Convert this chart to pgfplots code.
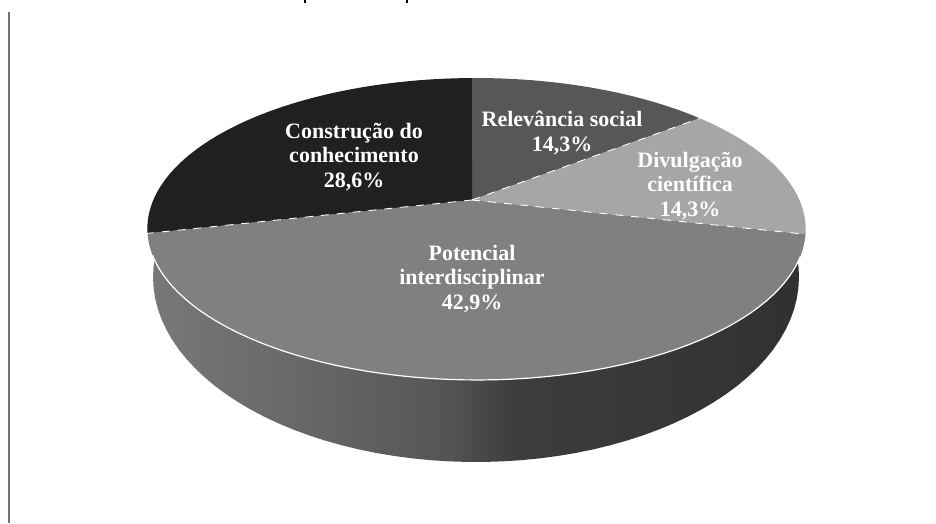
\documentclass[border=0pt]{standalone}
\usepackage{fontspec}
\setmainfont{Liberation Serif}
\usepackage{pgfplots}
\usepackage{pgfplotstable}
\pgfplotsset{compat=1.18}

% Shares of the four categories, clockwise from twelve o'clock
\pgfplotstableread{
share
14.3
14.3
42.9
28.6
}\pietable

\definecolor{wallA}{gray}{0.47}
\definecolor{wallB}{gray}{0.39}
\definecolor{wallC}{gray}{0.34}
\definecolor{wallD}{gray}{0.24}
\definecolor{wallE}{gray}{0.19}
\definecolor{sliceRel}{gray}{0.34}
\definecolor{sliceDiv}{gray}{0.65}
\definecolor{slicePot}{gray}{0.50}
\definecolor{sliceCon}{gray}{0.125}
% Stops of the side wall, darkening from left to right
\pgfdeclarehorizontalshading{wallshade}{100bp}{
  color(0bp)=(wallA); color(25bp)=(wallA); color(39bp)=(wallB);
  color(47bp)=(wallC); color(53bp)=(wallD); color(75bp)=(wallE); color(100bp)=(wallE)}

% Slice boundaries as angles, from the shares
\pgfplotstablegetelem{0}{share}\of\pietable\let\shA\pgfplotsretval
\pgfplotstablegetelem{1}{share}\of\pietable\let\shB\pgfplotsretval
\pgfplotstablegetelem{2}{share}\of\pietable\let\shC\pgfplotsretval
\pgfplotstablegetelem{3}{share}\of\pietable\let\shD\pgfplotsretval
\pgfmathsetmacro\tot{\shA+\shB+\shC+\shD}
\pgfmathsetmacro\angA{360*(\shA/\tot)}
\pgfmathsetmacro\angB{360*((\shA+\shB)/\tot)}
\pgfmathsetmacro\angC{360*((\shA+\shB+\shC)/\tot)}

\begin{document}
\begin{tikzpicture}
\begin{axis}[
  at={(0,0)}, anchor=south west,
  scale only axis, width=936pt, height=523pt,
  xmin=0, xmax=936, ymin=0, ymax=523, y dir=reverse,
  hide axis, clip=true,
  samples=60,
  declare function={
    den(\t)=1+0.192*cos(\t)-0.0135*sin(\t);
    px(\t)=472+323*sin(\t)/den(\t);
    py(\t)=200-145.4*cos(\t)/den(\t);
  },
  separator/.style={white, line width=0.9pt, dash pattern=on 8pt off 8pt, domain=0:1, samples=2},
]
% page background
\addplot[draw=none, fill=white] coordinates {(0,0)(936,0)(936,523)(0,523)} -- cycle;
% vertical rule at the left and the feet of the line of text cut off above
\addplot[color=black!55, line width=2.4pt] coordinates {(9,12)(9,523)};
\addplot[black, line width=1.4pt] coordinates {(305,0)(305,3)};
\addplot[black, line width=1.4pt] coordinates {(407,0)(407,3)};
% side wall
\addplot[draw=none, shading=wallshade, domain=-6.2:186.2]
  ({476+323*cos(x)},{277+185*sin(x)}) -- cycle;
% top face
\addplot[draw=none, fill=sliceRel, domain=0:\angA]
  ({px(x)},{py(x)}) -- (axis cs:472,200) -- cycle;
\addplot[draw=none, fill=sliceDiv, domain=\angA:\angB]
  ({px(x)},{py(x)}) -- (axis cs:472,200) -- cycle;
\addplot[draw=none, fill=slicePot, domain=\angB:\angC]
  ({px(x)},{py(x)}) -- (axis cs:472,200) -- cycle;
\addplot[draw=none, fill=sliceCon, domain=\angC:360]
  ({px(x)},{py(x)}) -- (axis cs:472,200) -- cycle;
% white rim along the front of the top face
\addplot[white, line width=1.2pt, domain=111:249] ({px(x)},{py(x)});
% white slice separators, drawn from the apex outwards
\addplot[separator] ({472+x*(px(\angA)-472)},{200+x*(py(\angA)-200)});
\addplot[separator] ({472+x*(px(\angB)-472)},{200+x*(py(\angB)-200)});
\addplot[separator] ({472+x*(px(\angC)-472)},{200+x*(py(\angC)-200)});
% slice labels
\begin{scope}[every node/.style={text=white, font=\fontsize{22}{24.5}\selectfont\bfseries, align=center, inner sep=0pt}]
\node at (axis cs:354,157) {Construção do\\conhecimento\\28,6\%};
\node at (axis cs:562,133) {Relevância social\\14,3\%};
\node at (axis cs:690,186) {Divulgação\\científica\\14,3\%};
\node at (axis cs:472,279) {Potencial\\interdisciplinar\\42,9\%};
\end{scope}
\end{axis}
% the page is exactly the plot box
\pgfresetboundingbox
\path[use as bounding box] (0,0) rectangle (936pt,523pt);
\end{tikzpicture}
\end{document}
